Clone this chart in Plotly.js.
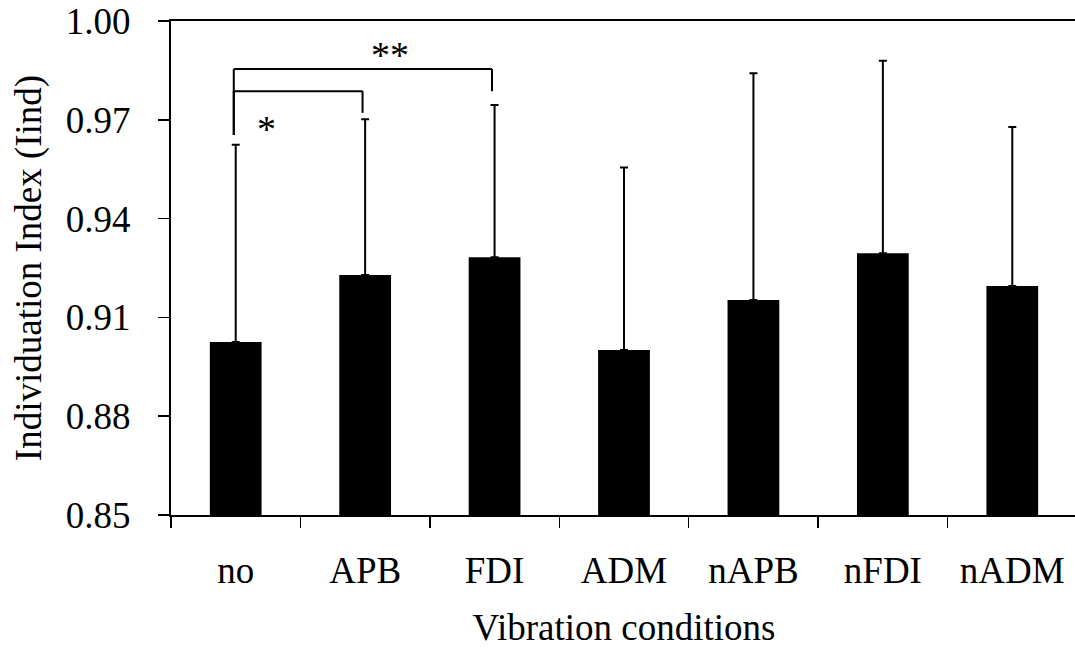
<!DOCTYPE html>
<html>
<head>
<meta charset="utf-8">
<script src="https://cdn.plot.ly/plotly-3.0.1.min.js"></script>
<style>
html, body { margin: 0; padding: 0; overflow: hidden; background: #fff; }
#chart { width: 1077px; height: 650px; }
</style>
</head>
<body>
<div id="chart"></div>
<script>
var categories = ["no", "APB", "FDI", "ADM", "nAPB", "nFDI", "nADM"];
var meanValues = [0.9025, 0.9229, 0.9283, 0.9001, 0.9153, 0.9295, 0.9195];
var sdValues = [0.0599, 0.0473, 0.0462, 0.0554, 0.0688, 0.0584, 0.0483];
var yTickValues = [0.85, 0.88, 0.91, 0.94, 0.97, 1.00];
var yTickLabels = ["0.85", "0.88", "0.91", "0.94", "0.97", "1.00"];

// significance brackets
var bracketFrom = [0, 0];
var bracketTo = [1, 2];
var bracketTop = [0.9787, 0.9854];
var bracketLeftBottom = [0.9654, 0.9654];
var bracketRightBottom = [0.9721, 0.9787];
var bracketLabels = ["*", "**"];
var bracketLabelX = [0.24, 1.19];
var bracketLabelY = [0.9672, 0.9898];

var FONT = "Liberation Serif, Times New Roman, serif";

var shapes = [];
var annotations = [];
for (var i = 0; i < bracketFrom.length; i++) {
  var x0 = bracketFrom[i] - 0.015, x1 = bracketTo[i] - 0.02;
  var ln = {color: "#000", width: 2};
  shapes.push({type: "line", xref: "x", yref: "y", x0: x0, x1: x0, y0: bracketLeftBottom[i], y1: bracketTop[i], line: ln});
  shapes.push({type: "line", xref: "x", yref: "y", x0: x0, x1: x1, y0: bracketTop[i], y1: bracketTop[i], line: ln});
  shapes.push({type: "line", xref: "x", yref: "y", x0: x1, x1: x1, y0: bracketTop[i], y1: bracketRightBottom[i], line: ln});
  annotations.push({xref: "x", yref: "y", x: bracketLabelX[i], y: bracketLabelY[i], text: bracketLabels[i],
    showarrow: false, font: {family: FONT, size: 38, color: "#000"}});
}

var trace = {
  type: "bar",
  x: categories,
  y: meanValues,
  marker: {color: "#000", line: {width: 0}},
  width: 0.4,
  error_y: {type: "data", symmetric: false, array: sdValues, arrayminus: sdValues.map(function(){return 0;}),
    color: "#000", thickness: 2, width: 4}
};

var layout = {
  width: 1077, height: 650,
  margin: {l: 171, r: 0, t: 21, b: 135},
  paper_bgcolor: "#fff", plot_bgcolor: "#fff",
  showlegend: false,
  font: {family: FONT, size: 37, color: "#000"},
  xaxis: {
    type: "category",
    range: [-0.5, 6.5],
    tickson: "boundaries",
    ticks: "outside", ticklen: 11, tickwidth: 1.5, tickcolor: "#000",
    showline: true, linecolor: "#000", linewidth: 2, mirror: true,
    showgrid: false, zeroline: false,
    tickfont: {family: FONT, size: 37, color: "#000"},
    ticklabelstandoff: 22,
    title: {text: "Vibration conditions", font: {family: FONT, size: 37, color: "#000"}, standoff: 24}
  },
  yaxis: {
    range: [0.85, 1.00],
    tickvals: yTickValues, ticktext: yTickLabels,
    ticks: "outside", ticklen: 11, tickwidth: 1.5, tickcolor: "#000",
    showline: true, linecolor: "#000", linewidth: 2,
    showgrid: false, zeroline: false,
    tickfont: {family: FONT, size: 37, color: "#000"},
    ticklabelstandoff: 20,
    title: {text: "Individuation Index (Iind)", font: {family: FONT, size: 37, color: "#000"}, standoff: 13}
  },
  shapes: shapes,
  annotations: annotations
};

Plotly.newPlot("chart", [trace], layout, {displayModeBar: false, staticPlot: true});
</script>
</body>
</html>
